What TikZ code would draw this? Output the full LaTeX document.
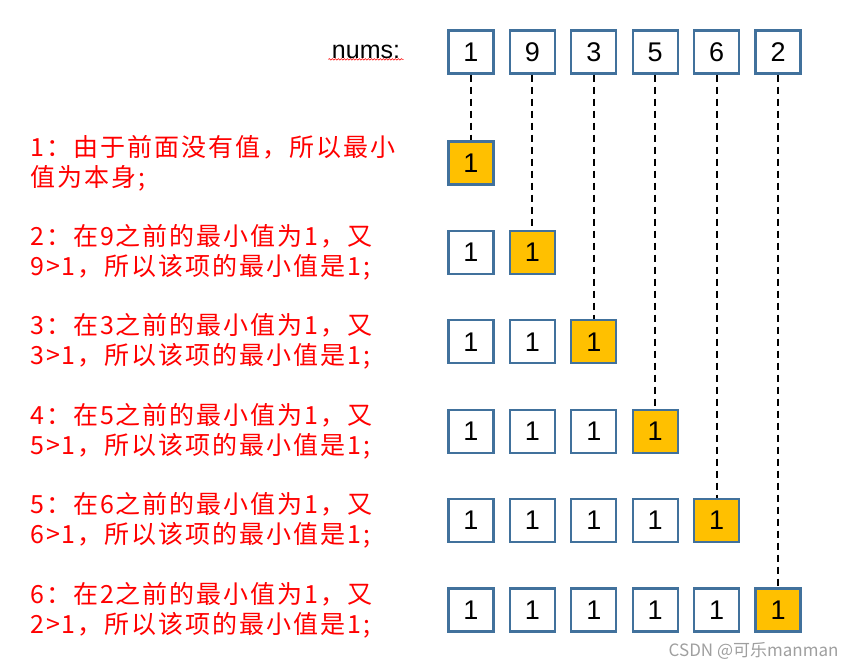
\documentclass[tikz,border=0pt]{standalone}
\usepackage{fontspec}
\setmainfont{Liberation Sans}
\newfontfamily\cjk[LetterSpace=8]{Noto Sans CJK SC}
\newfontfamily\markfont{Noto Sans CJK SC}
\usetikzlibrary{decorations.pathmorphing}

\definecolor{boxblue}{HTML}{41719C}
\definecolor{minyellow}{HTML}{FFC000}
\tikzset{
  numbox/.style={draw=boxblue, line width=2.2pt, minimum width=45pt, minimum height=43pt,
    inner sep=0pt, font=\fontsize{27}{27}\selectfont},
  minbox/.style={numbox, fill=minyellow},
  guide/.style={line width=2pt, dash pattern=on 7pt off 5pt},
  note/.style={red, align=left, anchor=west, inner sep=0pt, font=\cjk\fontsize{25}{30}\selectfont},
}

\begin{document}
\begin{tikzpicture}[x=1pt, y=-1pt]
  \useasboundingbox (0,0) rectangle (856,669);

  \node[font=\fontsize{25}{25}\selectfont] (nums) at (366,52) {nums:};
  \draw[red, line width=0.6pt, decorate, decoration={snake, amplitude=0.8pt, segment length=3pt}]
    ([yshift=3pt]nums.south west) -- ([yshift=3pt]nums.south east);

  \foreach \v [count=\c] in {1,9,3,5,6,2}
    \node[numbox] (t\c) at ({471+(\c-1)*61.4},52) {\v};

  \foreach \r in {1,...,6} {
    \foreach \c in {1,...,6} {
      \ifnum\c<\r
        \node[numbox] (r\r-\c) at ({471+(\c-1)*61.4},{163+(\r-1)*89.4}) {1};
      \fi
      \ifnum\c=\r
        \node[minbox] (r\r-\c) at ({471+(\c-1)*61.4},{163+(\r-1)*89.4}) {1};
        \draw[guide] (t\c.south) -- (r\r-\c.north);
      \fi
    }
  }

  \node[note] (n1) at (30,163) {1：由于前面没有值，所以最小\\值为本身;};
  \foreach \r/\v in {2/9,3/3,4/5,5/6,6/2}
    \node[note] (n\r) at (30,{163+(\r-1)*89.4}) {\r：在{\v}之前的最小值为1，又\\\v>1，所以该项的最小值是1;};

  \node[anchor=east, text=gray!75, font=\markfont\fontsize{17}{17}\selectfont] (mark) at (842,651) {CSDN @可乐manman};

\end{tikzpicture}
\end{document}
